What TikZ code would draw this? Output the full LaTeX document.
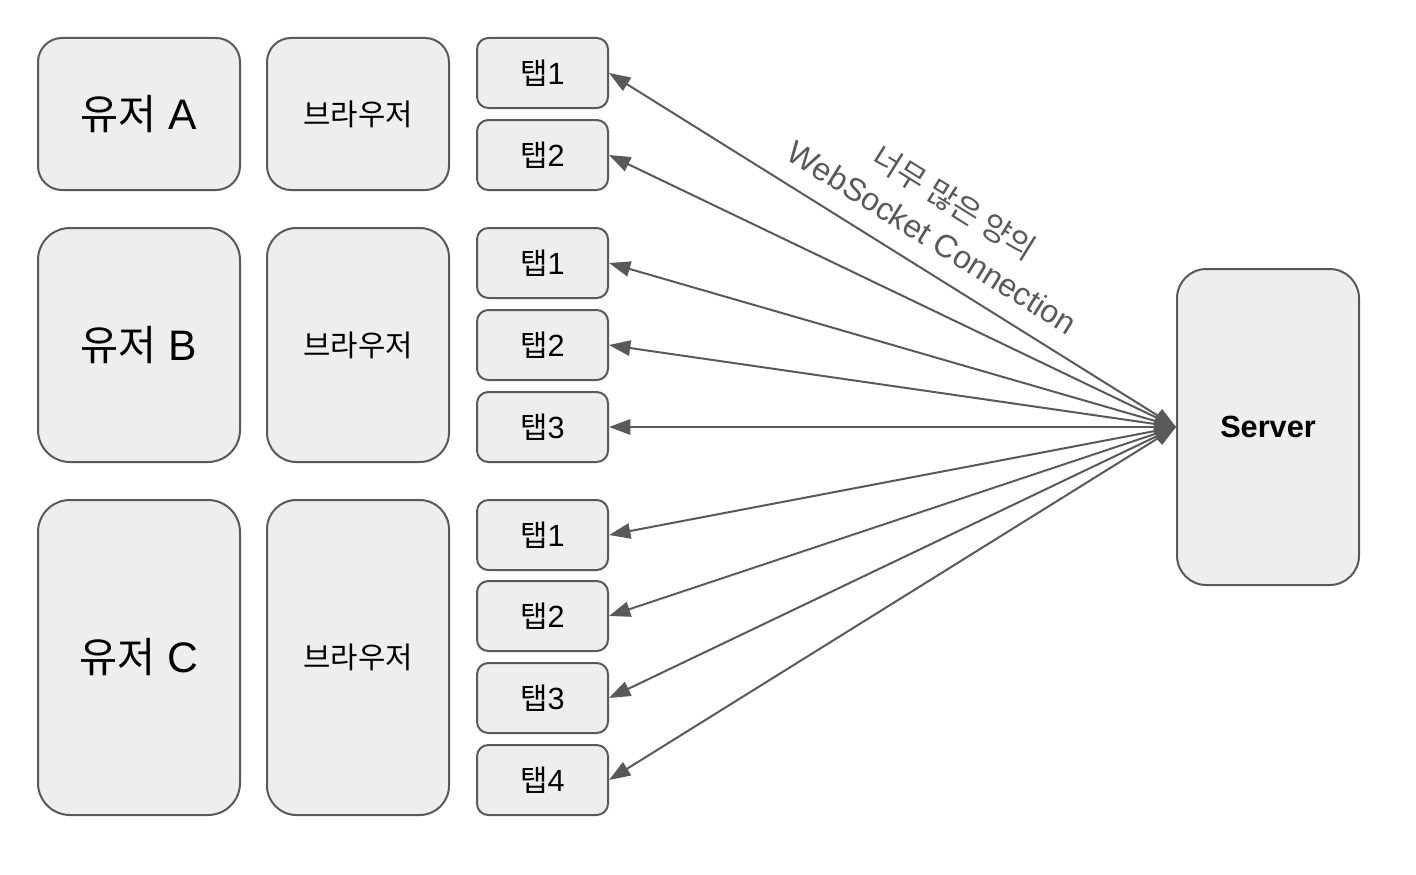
\documentclass[tikz,border=0pt]{standalone}
\usepackage{fontspec}
\setmainfont{Liberation Sans}
\newfontfamily\kr[Scale=0.97]{Noto Sans CJK KR}
\usetikzlibrary{arrows.meta}
\definecolor{linegray}{HTML}{595959}
\definecolor{boxgray}{HTML}{EEEEEE}
\def\px{0.75pt}

\begin{document}
\begin{tikzpicture}[x=0.75pt, y=-0.75pt,
		box/.style={draw=linegray, fill=boxgray, line width=1.5pt, inner sep=0pt, align=center, rounded corners=#1},
		user/.style={box=#1, minimum width=202*\px, font=\fontsize{32}{38}\selectfont},
		browser/.style={box=#1, minimum width=182*\px, font=\fontsize{23}{27}\selectfont},
		tab/.style={box=8.5pt, minimum width=131*\px, minimum height=70*\px, font=\fontsize{23}{27}\selectfont},
		conn/.style={draw=linegray, line width=1.5pt, {Triangle[length=16pt,width=11.5pt]}-{Triangle[length=16pt,width=11.5pt]}}]
			%%%%% FRAME %%%%%
			\useasboundingbox (0, 0) rectangle (1416, 874);
			
			%%%%% USERS %%%%%
			\node[user=18pt, minimum height=152*\px] (userA) at (139, 114) {{\kr 유저} A};
			\node[user=24pt, minimum height=234*\px] (userB) at (139, 345) {{\kr 유저} B};
			\node[user=24pt, minimum height=315*\px] (userC) at (139, 657.5) {{\kr 유저} C};
			
			\node[browser=18pt, minimum height=152*\px] (browserA) at (358, 114) {\kr 브라우저};
			\node[browser=22pt, minimum height=234*\px] (browserB) at (358, 345) {\kr 브라우저};
			\node[browser=22pt, minimum height=315*\px] (browserC) at (358, 657.5) {\kr 브라우저};
			
			%%%%% TABS %%%%%
			\node[tab] (tabA1) at (542.5, 73) {{\kr 탭}1};
			\node[tab] (tabA2) at (542.5, 155) {{\kr 탭}2};
			
			\node[tab] (tabB1) at (542.5, 263) {{\kr 탭}1};
			\node[tab] (tabB2) at (542.5, 345) {{\kr 탭}2};
			\node[tab] (tabB3) at (542.5, 427) {{\kr 탭}3};
			
			\node[tab] (tabC1) at (542.5, 535) {{\kr 탭}1};
			\node[tab] (tabC2) at (542.5, 616) {{\kr 탭}2};
			\node[tab] (tabC3) at (542.5, 698) {{\kr 탭}3};
			\node[tab] (tabC4) at (542.5, 780) {{\kr 탭}4};
			
			%%%%% SERVER %%%%%
			\node[box=22pt, minimum width=182*\px, minimum height=316*\px, font=\fontsize{23}{27}\selectfont\bfseries] (server) at (1268, 427) {Server};
			
			\foreach \t in {tabA1,tabA2,tabB1,tabB2,tabB3,tabC1,tabC2,tabC3,tabC4}
				\draw[conn] (server.west) -- (\t.east);
			
			\node[rotate=-32, align=center, text=linegray, font=\fontsize{24}{31}\selectfont] (connlabel) at (944, 219) {{\kr 너무 많은 양의}\\WebSocket Connection};
			
			%%%%% END %%%%%
		\end{tikzpicture}
\end{document}
